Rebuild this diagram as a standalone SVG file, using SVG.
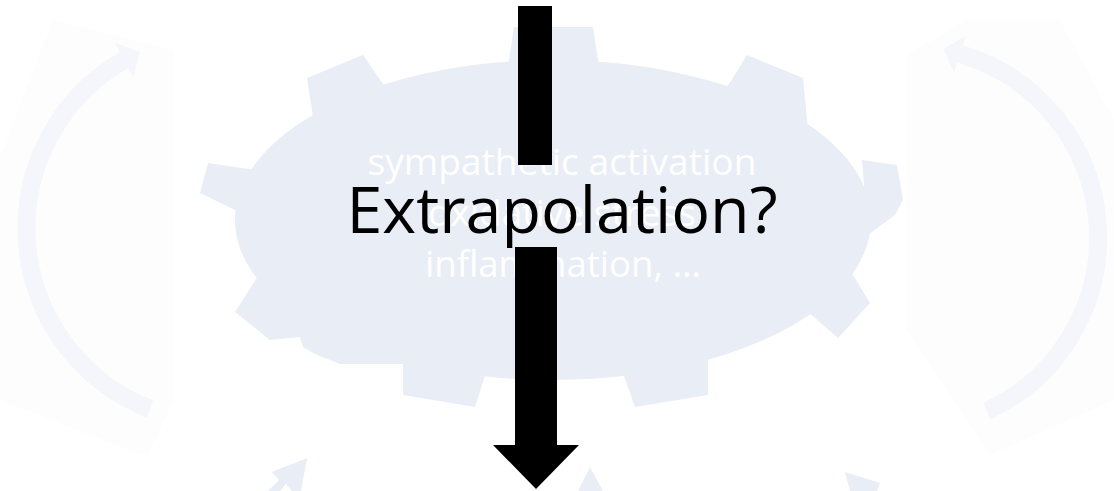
<svg xmlns="http://www.w3.org/2000/svg" width="1114" height="491" viewBox="0 0 1114 491">
<style>
.gear{fill:#E9EDF6}
.panel{fill:#FDFDFE}
.cyc{fill:none;stroke:#F5F6FB;stroke-width:18}
.cychead{fill:#F5F6FB}
.wt{font-family:"Open Sans","Liberation Sans",sans-serif;font-size:36px;fill:#FFFFFF;text-anchor:middle}
.big{font-family:"Open Sans","Liberation Sans",sans-serif;font-size:64px;fill:#000000;text-anchor:middle}
.blk{fill:#000000}
</style>
<rect width="1114" height="491" fill="#FFFFFF"/>
<g id="cycle-left">
<polygon class="panel" points="53,20 173,50 173,400 147,457 0,400 0,157"/>
<path class="cyc" d="M150,409 A194,194 0 0 1 124,60"/>
<polygon class="cychead" points="115,43 140,52 133,77"/>
</g>
<g id="cycle-right">
<polygon class="panel" points="907,55 967,20 1060,20 1114,120 1114,400 990,455 907,330"/>
<path class="cyc" d="M987,411 A191,191 0 0 0 960,54"/>
<polygon class="cychead" points="966,36 943,49 954,72"/>
</g>
<g id="gear">
<ellipse class="gear" cx="553" cy="220" rx="318" ry="160"/>
<polygon class="gear" points="506,80 514,27 593,27 601,80"/>
<polygon class="gear" points="394,100 363,55 307,78 315,130"/>
<polygon class="gear" points="719,100 747,55 803,78 808,130"/>
<polygon class="gear" points="255,170 208,163 200,193 245,215"/>
<polygon class="gear" points="262,270 235,312 270,340 295,315"/>
<polygon class="gear" points="262,300 270,340 300,337 303,347 315,354 340,364 404,364 404,330 330,320"/>
<polygon class="gear" points="403,350 403,395 475,407 490,360"/>
<polygon class="gear" points="620,365 635,407 708,395 708,350"/>
<polygon class="gear" points="800,305 838,338 870,303 850,270"/>
<polygon class="gear" points="862,160 897,165 903,200 895,215 868,235"/>
<text class="wt" x="562" y="175" textLength="389" lengthAdjust="spacingAndGlyphs">sympathetic activation</text>
<text class="wt" x="562" y="226" textLength="268" lengthAdjust="spacingAndGlyphs">oxidative stress</text>
<text class="wt" x="563" y="277" textLength="276" lengthAdjust="spacingAndGlyphs">inflammation, …</text>
</g>
<g id="gear-lower-parts">
<polygon class="gear" points="272,472 307,458 301,491 292,491 286,484 280,491 268,491 279,480"/>
<polygon class="gear" points="590,467 603,491 578,491"/>
<polygon class="gear" points="845,472 880,483 877,491 850,491"/>
</g>
<g id="connectors">
<rect class="blk" x="518" y="6" width="34" height="159"/>
<polygon class="blk" points="515,247 557,247 557,445 579,445 536,489 493,445 515,445"/>
</g>
<g id="label-extrapolation">
<text class="big" x="562" y="233" textLength="431" lengthAdjust="spacingAndGlyphs">Extrapolation?</text>
</g>
</svg>
